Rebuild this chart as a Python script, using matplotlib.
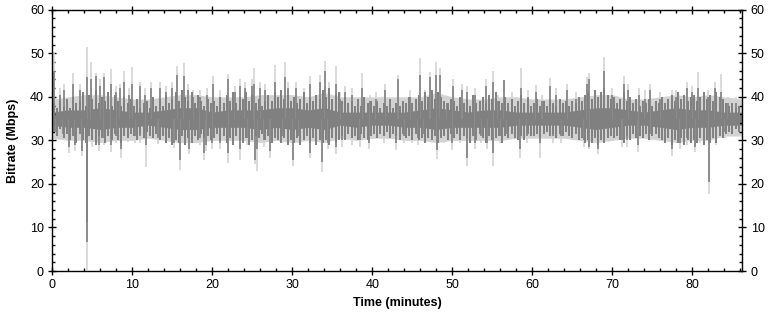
import numpy as np
import matplotlib
matplotlib.use('Agg')
import matplotlib.pyplot as plt
from matplotlib.ticker import MultipleLocator

plt.rcParams['font.family'] = ['Liberation Sans', 'DejaVu Sans']

# envelope of the bitrate trace, sampled every 2 minutes (Mbps)
band_t = [0, 2, 4, 6, 8, 10, 12, 14, 16, 18, 20, 22, 24, 26, 28, 30, 32, 34, 36, 38, 40, 42,
          44, 46, 48, 50, 52, 54, 56, 58, 60, 62, 64, 66, 68, 70, 72, 74, 76, 78, 80, 82, 84, 86.2]
dark_hi = [36.5, 37.0, 37.0, 37.5, 37.0, 36.5, 36.5, 37.0, 37.5, 37.5, 36.5, 37.0, 37.0, 37.0,
           37.5, 37.5, 37.0, 37.5, 36.5, 36.5, 36.5, 36.5, 36.5, 37.0, 37.5, 37.0, 36.5, 37.0,
           37.0, 36.5, 36.5, 36.5, 36.5, 37.0, 37.5, 37.5, 37.0, 36.5, 37.0, 37.5, 37.0, 37.0,
           36.5, 36.5]
dark_lo = [33.5, 33.0, 33.0, 32.5, 33.0, 33.0, 33.5, 33.0, 32.5, 32.5, 33.0, 33.0, 33.0, 32.5,
           33.0, 32.5, 33.0, 32.5, 33.5, 33.0, 33.5, 33.5, 33.0, 33.0, 32.5, 33.0, 33.0, 33.0,
           33.0, 33.5, 33.5, 33.5, 33.5, 33.0, 32.5, 33.0, 33.5, 33.5, 33.0, 32.5, 33.0, 33.0,
           33.5, 33.5]
light_hi = [39.5, 40.0, 40.5, 40.5, 40.0, 39.5, 39.5, 40.0, 40.5, 40.5, 40.0, 40.0, 40.0, 40.5,
            40.5, 40.5, 40.0, 41.0, 40.0, 40.0, 40.0, 40.0, 40.0, 40.0, 41.0, 40.0, 39.5, 39.5,
            40.0, 40.0, 39.5, 39.5, 39.5, 40.0, 40.5, 40.5, 39.5, 39.5, 40.0, 40.5, 40.0, 40.5,
            40.0, 39.5]
light_lo = [30.5, 30.0, 30.0, 29.5, 30.0, 30.0, 30.5, 30.0, 29.5, 29.5, 30.0, 30.0, 30.0, 29.5,
            30.0, 29.5, 30.0, 29.5, 30.5, 30.0, 30.5, 30.5, 30.0, 30.0, 29.5, 30.0, 30.0, 30.0,
            30.0, 30.5, 30.5, 30.5, 30.5, 30.0, 29.5, 30.0, 30.5, 30.5, 30.0, 29.5, 30.0, 30.0,
            31.0, 31.0]

# short-term swing of the dark trace, one reading every 0.4 minute
mid_t = np.arange(0.2, 86.0, 0.4)
mid_hi = [38.5, 37.5, 39.0, 38.0, 39.5, 37.5, 40.0, 38.5, 39.0, 41.0, 38.0, 40.5, 39.5, 41.5, 38.5,
          40.0, 39.0, 41.0, 38.0, 40.5, 39.0, 38.0, 40.0, 38.5, 39.5,
          38.0, 39.5, 37.5, 38.5, 39.0, 37.5, 40.0, 38.0, 39.5, 38.0, 40.5, 38.5, 39.5, 41.0, 39.0,
          41.5, 40.0, 39.0, 41.0, 38.5, 40.5, 39.0, 38.0, 39.5, 38.5,
          39.0, 38.0, 40.0, 38.5, 40.5, 39.0, 41.0, 38.5, 40.0, 39.5, 41.0, 39.0, 40.5, 38.5, 39.5,
          38.0, 39.0, 40.5, 39.0, 41.0, 40.0, 41.5, 39.5, 40.5, 39.0,
          40.0, 38.5, 39.5, 41.0, 38.5, 40.0, 39.0, 40.5, 39.5, 41.5, 40.0, 42.0, 39.5, 40.5, 41.0,
          39.0, 40.0, 38.5, 39.0, 38.0, 39.5, 38.0, 40.0, 38.5, 39.0,
          38.0, 39.0, 37.5, 38.5, 38.0, 39.5, 37.5, 38.5, 38.0, 39.0, 38.5, 40.0, 38.5, 39.5, 40.5,
          39.0, 41.0, 40.0, 41.5, 39.5, 41.0, 40.0, 39.0, 38.5, 39.5,
          39.0, 38.0, 40.0, 38.5, 39.5, 38.0, 40.5, 38.5, 39.0, 40.0, 38.5, 40.5, 39.5, 41.0, 39.0,
          38.5, 40.0, 38.5, 39.5, 38.0, 39.0, 40.5, 38.5, 39.5, 38.0,
          38.5, 39.5, 38.0, 39.0, 38.0, 39.5, 38.5, 38.0, 39.5, 38.5, 39.0, 38.0, 39.0, 38.5, 40.0,
          39.0, 40.5, 41.0, 39.5, 41.5, 40.0, 41.0, 42.0, 40.5, 39.5,
          40.0, 38.5, 39.5, 41.0, 39.0, 40.0, 38.5, 39.5, 38.0, 39.0, 38.5, 39.5, 38.0, 39.0, 38.5,
          40.0, 38.5, 39.5, 40.5, 39.0, 41.0, 39.5, 40.5, 39.0, 40.0,
          40.5, 39.0, 40.0, 41.0, 39.5, 40.5, 39.0, 41.0, 40.0, 39.5, 38.5, 38.0, 38.5, 37.5, 38.0]
mid_lo = [32.0, 31.0, 32.5, 30.5, 31.5, 30.0, 31.0, 29.5, 31.5, 30.0, 29.5, 31.0, 30.0, 29.0, 31.0,
          30.5, 29.5, 31.0, 30.0, 31.5, 30.0, 29.5, 31.0, 30.5, 31.5,
          31.0, 30.0, 31.5, 30.5, 32.0, 31.0, 30.5, 31.5, 30.0, 31.0, 29.5, 30.5, 29.0, 30.0, 29.5,
          31.0, 29.0, 30.5, 29.5, 31.0, 30.0, 31.5, 30.5, 31.0, 30.0,
          30.5, 31.5, 30.0, 31.0, 29.5, 30.5, 29.0, 31.0, 30.0, 29.5, 30.5, 29.0, 30.0, 31.0, 30.5,
          31.5, 30.0, 31.0, 29.5, 30.5, 30.0, 29.5, 30.5, 29.0, 30.0,
          29.5, 30.5, 29.0, 30.0, 31.0, 29.5, 30.5, 29.0, 30.0, 29.5, 30.0, 29.0, 30.5, 29.5, 30.0,
          31.0, 30.0, 31.5, 30.5, 31.0, 30.0, 31.5, 30.5, 30.0, 31.0,
          31.5, 30.5, 31.5, 31.0, 32.0, 30.5, 31.5, 31.0, 30.0, 31.5, 30.5, 31.0, 30.0, 31.5, 30.0,
          30.5, 29.5, 30.5, 30.0, 31.0, 29.5, 30.5, 31.0, 30.0, 31.5,
          30.5, 31.5, 30.0, 31.0, 30.5, 29.5, 31.0, 30.0, 31.5, 30.5, 29.5, 31.0, 30.0, 30.5, 31.0,
          29.5, 31.0, 30.5, 31.5, 30.5, 30.0, 31.0, 30.0, 31.5, 31.0,
          31.0, 31.5, 30.5, 31.5, 32.0, 31.0, 31.5, 30.5, 31.5, 31.0, 32.0, 31.0, 30.5, 31.5, 30.0,
          30.5, 29.5, 30.0, 29.5, 30.5, 29.0, 30.0, 29.5, 30.5, 31.0,
          30.5, 31.0, 30.0, 29.5, 31.0, 30.0, 31.5, 30.5, 31.0, 30.5, 31.5, 30.0, 31.0, 31.5, 30.5,
          30.0, 29.5, 30.5, 29.0, 30.0, 29.5, 30.5, 29.0, 30.0, 29.5,
          30.0, 29.5, 30.5, 29.0, 30.0, 29.5, 30.5, 29.5, 31.0, 30.5, 31.5, 32.0, 31.5, 32.5, 32.0]

# upward spikes: time (min), top of dark trace, top of light trace
up_t = [0.15, 0.9, 1.5, 2.55, 3.4, 4.38, 4.8, 5.4, 5.9, 6.46, 7.3, 7.9, 8.4, 8.96, 9.6, 10.0,
        10.96, 11.6, 12.3, 13.5, 14.2, 15.0, 15.6, 16.5, 17.0, 17.6, 18.5, 19.3, 20.1, 21.0,
        22.0, 22.8, 23.5, 24.1, 25.0, 25.25, 26.0, 26.6, 27.8, 29.1, 29.4, 30.5, 31.5, 32.2,
        33.5, 34.1, 34.6, 35.5, 36.0, 36.6, 37.5, 38.75, 39.7, 40.5, 41.6, 43.25, 44.7, 45.9,
        46.6, 47.2, 47.96, 48.5, 49.3, 50.1, 51.2, 51.8, 52.8, 54.2, 55.1, 55.7, 56.5, 57.5,
        58.6, 59.5, 60.5, 61.2, 62.2, 63.0, 64.3, 65.5, 66.8, 67.1, 68.96, 69.9, 71.4, 71.9,
        73.3, 74.1, 74.7, 75.9, 77.4, 78.0, 79.3, 79.9, 80.76, 81.9, 82.8, 83.6, 84.5, 85.5]
up_dark = [46.0, 40.5, 41.5, 43.0, 41.5, 44.5, 44.0, 44.7, 42.5, 44.5, 43.0, 41.0, 42.0, 43.5,
           40.5, 43.0, 42.5, 40.5, 42.0, 42.0, 41.0, 42.0, 45.0, 44.7, 41.5, 40.0, 40.0, 40.5,
           43.0, 40.0, 44.0, 41.0, 42.5, 42.0, 42.5, 43.0, 42.0, 41.5, 43.5, 44.5, 42.0, 42.0,
           40.5, 43.0, 43.5, 46.0, 42.0, 43.0, 39.5, 41.0, 40.5, 42.0, 39.0, 39.5, 41.5, 44.0,
           40.0, 45.0, 40.0, 44.5, 45.0, 45.0, 38.5, 42.5, 41.5, 41.0, 40.5, 42.5, 43.5, 39.0,
           43.8, 39.5, 42.0, 40.0, 41.0, 39.0, 42.5, 40.5, 41.5, 39.5, 43.0, 44.0, 46.0, 40.5,
           43.0, 41.5, 40.5, 39.5, 41.5, 39.5, 40.0, 40.0, 42.0, 41.0, 42.0, 40.0, 42.0, 41.0,
           38.5, 38.5]
up_light = [50.0, 42.0, 43.0, 45.5, 43.0, 51.5, 48.0, 45.5, 44.0, 45.5, 46.5, 42.5, 43.0, 46.0,
            42.0, 46.9, 43.5, 42.0, 43.5, 43.5, 42.5, 43.5, 47.0, 47.7, 43.0, 41.5, 41.5, 42.0,
            44.8, 41.5, 45.3, 42.5, 44.0, 43.5, 44.0, 46.6, 43.5, 43.0, 47.4, 48.0, 43.5, 43.5,
            42.0, 44.7, 45.0, 48.2, 43.5, 47.0, 41.0, 42.5, 42.0, 45.5, 40.5, 41.0, 43.0, 45.0,
            41.5, 48.9, 41.5, 45.6, 48.0, 46.7, 40.0, 44.1, 43.0, 42.5, 42.0, 44.0, 46.0, 40.5,
            43.8, 41.0, 46.7, 41.5, 42.7, 40.5, 44.3, 42.0, 43.0, 41.0, 44.5, 45.5, 49.2, 42.0,
            44.7, 43.0, 42.0, 41.6, 43.0, 41.0, 41.5, 41.5, 43.5, 42.5, 45.8, 41.6, 43.5, 45.3,
            40.0, 40.0]

# downward spikes: time (min), bottom of dark trace, bottom of light trace
dn_t = [0.5, 1.3, 2.1, 2.85, 3.75, 4.3, 4.36, 4.9, 5.8, 6.5, 7.3, 8.0, 8.6, 9.5, 10.3, 11.0,
        11.7, 13.25, 14.2, 15.2, 15.9, 16.6, 17.1, 18.4, 18.9, 19.2, 19.9, 21.0, 22.0, 22.6,
        23.4, 24.3, 25.3, 25.6, 26.4, 27.2, 28.7, 30.1, 30.7, 32.2, 33.7, 34.5, 35.5, 36.2,
        37.5, 38.4, 39.6, 41.4, 43.0, 44.0, 45.0, 45.7, 46.5, 47.5, 48.1, 48.9, 50.0, 51.0,
        51.8, 52.8, 53.6, 54.3, 55.1, 55.9, 56.8, 57.5, 58.5, 59.3, 61.0, 62.6, 63.6, 65.0,
        66.4, 67.1, 68.25, 68.9, 71.2, 71.8, 73.2, 74.7, 77.4, 78.4, 79.3, 80.3, 81.0, 82.1,
        83.0, 84.1]
dn_dark = [32.0, 31.5, 28.5, 29.0, 27.6, 11.3, 6.6, 30.0, 29.0, 30.5, 29.0, 31.0, 28.0, 31.0,
           31.0, 31.0, 29.0, 30.5, 31.5, 29.5, 25.6, 30.5, 28.0, 30.5, 27.0, 29.0, 29.5, 29.5,
           27.0, 31.5, 28.0, 30.5, 25.6, 28.0, 30.0, 27.5, 31.0, 25.6, 31.0, 27.0, 25.0, 29.5,
           28.5, 30.0, 30.5, 30.0, 29.5, 31.0, 29.5, 31.0, 31.0, 30.5, 31.5, 31.5, 27.9, 31.0,
           29.5, 31.0, 26.0, 29.5, 31.0, 29.5, 27.0, 31.0, 31.5, 32.0, 28.0, 31.0, 29.5, 31.0,
           31.0, 31.5, 30.0, 28.5, 28.0, 31.0, 30.0, 30.0, 29.0, 31.5, 28.0, 29.5, 30.5, 28.5,
           31.0, 20.5, 30.5, 32.0]
dn_light = [31.0, 30.0, 27.0, 27.5, 26.3, 11.0, 0.3, 28.5, 27.5, 29.0, 27.4, 29.5, 26.0, 29.7,
            29.5, 29.5, 24.0, 29.2, 30.0, 28.2, 23.3, 29.0, 26.8, 29.0, 25.6, 27.5, 28.0, 28.0,
            24.8, 30.0, 25.6, 29.0, 24.5, 23.0, 28.5, 26.0, 29.5, 24.2, 29.5, 26.0, 22.8, 28.0,
            26.8, 28.5, 29.0, 28.5, 28.0, 29.5, 27.9, 29.5, 29.5, 29.0, 30.0, 30.0, 25.7, 29.5,
            27.9, 29.5, 24.2, 28.0, 29.5, 28.0, 24.2, 29.5, 30.0, 30.5, 26.0, 29.5, 26.0, 29.5,
            29.5, 30.0, 28.5, 28.0, 26.8, 29.5, 28.5, 28.5, 27.4, 30.0, 26.3, 28.0, 29.0, 27.4,
            29.5, 17.8, 29.0, 30.5]

light = '#d3d3d3'
dark = '#808080'

fig = plt.figure(figsize=(7.73, 3.2), dpi=100)
ax = fig.add_axes([0.0677, 0.153, 0.8926, 0.8166])

ax.fill_between(band_t, light_lo, light_hi, color=light, lw=0)
ax.vlines(up_t, 35, up_light, color=light, lw=1.2)
ax.vlines(dn_t, dn_light, 35, color=light, lw=1.2)
ax.fill_between(band_t, dark_lo, dark_hi, color=dark, lw=0)
ax.vlines(mid_t, mid_lo, mid_hi, color=dark, lw=1.4)
ax.vlines(up_t, 35, up_dark, color=dark, lw=1.2)
ax.vlines(dn_t, dn_dark, 35, color=dark, lw=1.2)

ax.set_xlim(0, 86.25)
ax.set_ylim(0, 60)
ax.xaxis.set_major_locator(MultipleLocator(10))
ax.xaxis.set_minor_locator(MultipleLocator(2))
ax.yaxis.set_major_locator(MultipleLocator(10))
ax.yaxis.set_minor_locator(MultipleLocator(2))
ax.tick_params(which='major', direction='inout', length=6, width=1, labelsize=9,
               top=True, right=True, labelright=True, pad=3)
ax.tick_params(which='minor', direction='in', length=2.5, width=1, top=True, right=True)
for s in ax.spines.values():
    s.set_linewidth(1)

ax.set_xlabel('Time (minutes)', fontsize=9, fontweight='bold', labelpad=4)
ax.set_ylabel('Bitrate (Mbps)', fontsize=9, fontweight='bold', labelpad=8)

fig.savefig('out.png', dpi=100)
